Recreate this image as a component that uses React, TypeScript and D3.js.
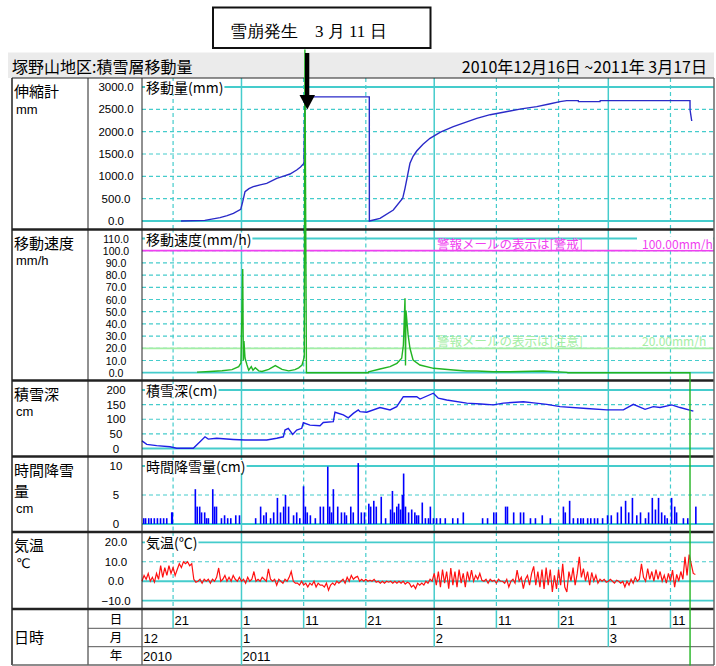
import React, { useRef, useEffect } from 'react';
import * as d3 from 'd3';

// time axis: 2010-12-16 00:00 .. 2011-03-18 00:00, data times are days since the start
const START = '2010-12-16';
const END = '2011-03-18';

// 移動量 (mm)
const displacement = [
  [6.27, 0], [10.1, 15], [12.55, 75], [13.7, 120], [14.7, 172], [15.88, 261], [16.2, 433],
  [16.57, 657], [17.2, 725], [17.9, 769], [19.0, 810], [20.06, 843], [21.67, 955], [22.8, 1005],
  [23.8, 1052], [24.88, 1142], [25.5, 1210], [26.06, 1291],
  [26.2, 2780], [36.56, 2780], [36.57, 0], [38.28, 60], [40.42, 246], [41.93, 508], [42.3, 731],
  [42.7, 1010], [43.1, 1291], [43.6, 1450], [44.18, 1567], [45.2, 1720], [46.32, 1851],
  [48.0, 1990], [50.07, 2112], [53.84, 2299], [56.0, 2380], [59.19, 2463], [61.0, 2510],
  [63.49, 2560], [65.5, 2620], [67.23, 2672], [68.31, 2694], [70.17, 2694], [70.2, 2672],
  [73.67, 2672], [73.7, 2694], [88.14, 2694], [88.15, 2485], [88.42, 2239],
];

// 移動速度 (mm/h)
const speed = [
  [8.85, 0.5], [10.94, 1], [12.87, 1.6], [14.48, 2.5], [15.55, 5], [15.92, 8], [16.2, 85],
  [16.3, 10], [16.4, 26], [16.57, 12], [16.89, 6.3], [17.16, 2], [17.58, 5], [17.85, 2],
  [18.22, 4], [18.77, 1.5], [19.3, 1], [20.38, 2.7], [21.44, 5.8], [22.52, 2.7], [23.6, 1.5],
  [24.6, 2.5], [25.2, 4], [25.74, 6.3], [26.1, 13], [26.2, 265], [26.45, 0], [36.4, 0],
  [36.45, 0.8], [38.28, 3], [39.9, 5], [41.0, 7.7], [41.77, 11.8], [42.04, 22.7], [42.3, 61],
  [42.38, 6], [42.46, 51], [42.8, 31], [43.1, 20], [43.6, 10.4], [44.7, 6.3], [46.9, 3.6],
  [50.07, 2.2], [52.2, 1.4], [53.8, 1.4], [56.5, 0.8], [59.2, 0.8], [64.5, 1.4], [68.3, 0.3],
  [68.5, 0], [88.14, 0], [88.15, -240],
];

// 警報メール thresholds
const alerts = [
  { value: 100, text: '警報メールの表示は[警戒]', valueText: '100.00mm/h', color: '#f040f0' },
  { value: 20, text: '警報メールの表示は[注意]', valueText: '20.00mm/h', color: '#a4eea4' },
];

// 積雪深 (cm)
const snowDepth = [
  [0, 26], [0.76, 14], [2.36, 10], [4.5, 6], [5.58, 1], [8.25, 1], [9.33, 23], [10.13, 40],
  [10.66, 32], [12.0, 35], [14.7, 31], [16.57, 29], [20.06, 29], [21.67, 35], [22.73, 40],
  [23.0, 63], [23.53, 69], [24.24, 48], [24.88, 63], [25.69, 69], [25.95, 88], [27.02, 80],
  [28.63, 78], [29.16, 89], [30.77, 92], [31.04, 124], [32.38, 115], [33.18, 105], [33.99, 120],
  [34.79, 132], [35.07, 126], [36.14, 124], [38.28, 140], [39.89, 132], [40.97, 143],
  [42.03, 177], [44.19, 177], [44.72, 169], [46.86, 189], [47.66, 172], [49.01, 166],
  [52.23, 155], [54.5, 152], [56.51, 149], [58.12, 155], [61.33, 160], [63.0, 156], [65.1, 151],
  [67.24, 143], [71.53, 137], [74.75, 132], [77.42, 132], [79.03, 151], [80.91, 134],
  [82.24, 143], [83.32, 140], [85.2, 149], [86.54, 140], [88.68, 128],
];

// 時間降雪量 (cm)
const snowfall = [
  [0.2, 1], [0.5, 1], [1.0, 1], [1.4, 1], [1.9, 1], [2.4, 1], [2.9, 1], [3.4, 1], [3.9, 1],
  [4.7, 2], [4.8, 2], [8.5, 6], [8.8, 3], [9.2, 3], [9.5, 2], [10.0, 2], [10.3, 1], [10.6, 1],
  [11.3, 6], [11.6, 3], [11.9, 3], [12.7, 1], [13.2, 1.5], [13.7, 1], [14.2, 1], [15.0, 1.5],
  [15.6, 1.5], [18.2, 1], [19.0, 3], [19.5, 1.5], [19.9, 2], [20.6, 1], [21.1, 2], [21.7, 4.5],
  [22.2, 2], [22.7, 3], [23.0, 5], [23.5, 3], [24.3, 1.5], [24.8, 2], [25.3, 1], [25.9, 6.5],
  [26.2, 3], [26.5, 2], [27.0, 1.5], [27.8, 1], [28.6, 3], [29.1, 3], [29.8, 9.9], [30.1, 3],
  [30.4, 2], [30.7, 6], [31.4, 3], [32.0, 2], [32.5, 2], [32.8, 1.5], [33.5, 3], [33.9, 2],
  [34.7, 10.5], [35.2, 2], [35.7, 2], [36.4, 3.5], [36.7, 3], [37.2, 4], [37.6, 3], [38.4, 4.7],
  [39.1, 1], [39.9, 2.5], [40.2, 5.7], [40.5, 2], [40.9, 3], [41.2, 3.5], [41.5, 2.5], [41.8, 5],
  [42.0, 8.7], [42.3, 3], [42.8, 2], [43.3, 2.5], [43.8, 2], [44.1, 1.5], [44.4, 1.5], [45.0, 3.7],
  [45.5, 1], [46.0, 1], [46.3, 3], [46.8, 1], [47.3, 1], [47.9, 1], [48.7, 1], [49.9, 1],
  [50.7, 1], [51.6, 2], [54.7, 1], [55.5, 1], [56.5, 2], [56.9, 2], [58.4, 3], [58.7, 3],
  [59.7, 2], [60.8, 2], [61.3, 2], [62.4, 1], [63.2, 1], [64.3, 1.5], [65.6, 1], [67.7, 3],
  [68.0, 2], [68.7, 4], [69.3, 1], [70.0, 1], [70.5, 1], [70.9, 1], [71.6, 1], [72.1, 1],
  [72.7, 1], [73.2, 1], [74.0, 1], [74.8, 1.5], [75.4, 1.5], [76.4, 2], [77.0, 3], [77.7, 4],
  [78.2, 2], [78.8, 4.5], [79.5, 1.5], [80.1, 2], [80.9, 1], [81.4, 2], [82.0, 4.5], [82.5, 2.5],
  [83.0, 4.5], [83.5, 2], [84.0, 1.5], [84.4, 1], [85.1, 4.5], [85.6, 3], [85.9, 2], [87.0, 1],
  [87.7, 1], [89.0, 3],
];

// 気温 (℃), one reading every 8 hours from the start
const tempStepDays = 1 / 3;
const temperature = [
  0, 3, 1, 4, 0, 2, -0.5, 4, 1, 8, 2, 7, 3, 8, 4, 7, 3, 6, 9, 7, 10, 9, 10, 8,
  9, 1, -0.5, 0, 1, -1, 1, 0, 1, -1, 1, 0, 2, 6.8, 0, 1, 3, 0, 2, 0, 3, 1, 0, 2,
  0, 1, -1, 2, 0, 1, 5, 0, 1, 0, 2, 1, 0, 6.3, 1, 0, 1, -2, 1, 0, -1, 1, 0, 2,
  5, 0, -1, -1, -2, 0, -2, -1, -3, -1, -2, 0, -3, -1, -2, -2, -3, -1, -4.6, -2, -1, -2, 0, -1,
  0, 1, -1, 2, 0, 3, 1, 2, 2.5, 0, 1, 0, 1, 0, 0.5, 0, 1, -0.5, 0, -1, 0, -1, 0, -0.5,
  0, -1, 0, -1, 0, -1, 0, -1.5, -0.5, -1, -3, -2, -3.8, -1, -2, -1, -2, 0, -1, 1, 0,
  4, -2, 5, -3, 6, -1, 5, -3.8, 6.8, -2, 5, -3, 6, -1, 4, -3, 5, 0, 5.7, 0, 3, 1, 4, 0.5,
  0, 1, -1, 1, 0, 0.5, -1, 1, 0, 0, -1, 1, -3, 0, 1, -1, 5.7, 0, 2, -3.8, 1, 3, -2, 4,
  7.6, -2, 5, -3, 6, -4, 7, -2, 6, -5.5, 3, -4, 6, -2, 8.9, -3, -5.5, 5, 0, 7, -2, 4, 12.6, 2,
  6.5, 0, 5, -2, 4.5, 0, 3, -1, 1, 0, 1, -0.5, 0, 1, 0, -1, 0.5, 0, -1, 0, -3, 0, -2, 1,
  -1, 2, 0, 1, 8.9, 2, 0, 6.5, 1, 5, 0, 6, 1, 5, 0, 3, -1, 4, 0, 5.7, -3, 3.5, 0, 5,
  1, 12.6, 3, 13.7, 8.9, 4, 3.5,
];

const dispTicks = [0, 500, 1000, 1500, 2000, 2500, 3000];
const speedTicks = [0, 10, 20, 30, 40, 50, 60, 70, 80, 90, 100, 110];
const depthTicks = [0, 50, 100, 150, 200];
const snowfallTicks = [0, 5, 10];
const tempTicks = [-10, 0, 10, 20];

const dayTicks = ['2010-12-21', '2011-01-01', '2011-01-11', '2011-01-21', '2011-02-01',
  '2011-02-11', '2011-02-21', '2011-03-01', '2011-03-11'];
const monthLabels = [['2010-12-16', '12'], ['2011-01-01', '1'], ['2011-02-01', '2'], ['2011-03-01', '3']];
const yearLabels = [['2010-12-16', '2010'], ['2011-01-01', '2011']];

export default function App() {
  const svgRef = useRef(null);

  useEffect(() => {
    const svg = d3.select(svgRef.current);
    svg.selectAll('*').remove();

    const jp = "'Noto Sans CJK JP', sans-serif";
    const num = "'Liberation Sans', Arial, sans-serif";
    const cyan = '#45cccc';
    const L = 12, C1 = 88, C2 = 142, R = 714;

    const parse = d3.timeParse('%Y-%m-%d');
    const t0 = parse(START);
    const at = (day) => new Date(t0.getTime() + day * 864e5);
    const x = d3.scaleTime().domain([t0, parse(END)]).range([C2, R]);

    //header
    svg.append('rect').attr('x', 8).attr('y', 52.5).attr('width', R - 8).attr('height', 25.5).attr('fill', '#ebebeb');
    svg.append('text').attr('x', 12).attr('y', 73).style('font-family', jp).style('font-size', '16px')
      .text('塚野山地区:積雪層移動量');
    svg.append('text').attr('x', 707).attr('y', 73).attr('text-anchor', 'end').style('font-family', jp)
      .style('font-size', '16px').text('2010年12月16日 ~2011年 3月17日');

    const panels = [
      { label: ['伸縮計', 'mm'], title: '移動量(mm)', top: 78, bottom: 229.5, domain: [0, 3000], range: [221, 87], ticks: dispTicks, fmt: '.1f' },
      { label: ['移動速度', 'mm/h'], title: '移動速度(mm/h)', top: 229.5, bottom: 380.5, domain: [0, 110], range: [372.7, 238.5], ticks: speedTicks, fmt: '.1f' },
      { label: ['積雪深', 'cm'], title: '積雪深(cm)', top: 380.5, bottom: 456.5, domain: [0, 200], range: [448.5, 390], ticks: depthTicks, fmt: 'd' },
      { label: ['時間降雪', '量', 'cm'], title: '時間降雪量(cm)', top: 456.5, bottom: 532, domain: [0, 10], range: [524, 466], ticks: snowfallTicks, fmt: 'd' },
      { label: ['気温', '℃'], title: '気温(℃)', top: 532, bottom: 609, domain: [-10, 20], range: [600.7, 542.3], ticks: tempTicks, fmt: '.1f' },
    ];
    const ys = panels.map((p) => d3.scaleLinear().domain(p.domain).range(p.range));

    const dayDates = dayTicks.map(parse);
    const isMonthStart = (d) => d.getDate() === 1;

    panels.forEach((p, i) => {
      const y = ys[i];
      const g = svg.append('g');
      // vertical grid
      dayDates.forEach((d) => {
        g.append('line').attr('x1', x(d)).attr('x2', x(d)).attr('y1', p.top).attr('y2', p.bottom)
          .attr('stroke', cyan).attr('stroke-width', isMonthStart(d) ? 1.5 : 1.2)
          .attr('stroke-dasharray', isMonthStart(d) ? null : '4,3');
      });
      // horizontal grid
      const tickSize = p.ticks.length > 8 ? 10.5 : 11.5;
      p.ticks.forEach((v) => {
        const solid = v === p.domain[0] || v === p.domain[1] || v === 0;
        g.append('line').attr('x1', C2).attr('x2', R).attr('y1', y(v)).attr('y2', y(v))
          .attr('stroke', cyan).attr('stroke-width', solid ? 1.8 : 1.2)
          .attr('stroke-dasharray', solid ? null : '4,3');
        g.append('text').attr('x', 116).attr('y', y(v) + 4).attr('text-anchor', 'middle')
          .style('font-family', num).style('font-size', tickSize + 'px').text(d3.format(p.fmt)(v));
      });
      // left label lines
      let yy = p.top + 19;
      p.label.forEach((s, k) => {
        const latin = /^[a-z/℃]+$/.test(s);
        if (k > 0) yy += latin ? 16.5 : 21;
        g.append('text').attr('x', latin ? 16 : 14).attr('y', yy)
          .style('font-family', s === '℃' ? "'DejaVu Sans', sans-serif" : latin ? num : jp)
          .style('font-size', latin ? '13px' : '15px').text(s);
      });
      // title with white box
      const ty = y(p.domain[1]);
      const title = g.append('text').attr('x', 146).attr('y', ty + 6).style('font-family', jp)
        .style('font-size', '14px').text(p.title);
      const w = title.node().getComputedTextLength();
      g.insert('rect', () => title.node()).attr('x', 145).attr('y', ty - 6).attr('width', w + 2).attr('height', 13)
        .attr('fill', 'white');
    });

    // alert lines in the speed panel
    alerts.forEach((a) => {
      const yy = ys[1](a.value);
      svg.append('line').attr('x1', C2).attr('x2', R).attr('y1', yy).attr('y2', yy)
        .attr('stroke', a.color).attr('stroke-width', 1.8);
      svg.append('text').attr('x', 437).attr('y', yy - 2).attr('fill', a.color).style('font-family', jp)
        .style('font-size', '12.5px').text(a.text);
      const vt = svg.append('text').attr('x', 642).attr('y', yy - 2).attr('fill', a.color)
        .style('font-family', jp).style('font-size', '12px').text(a.valueText);
      if (a.value === 100) {
        svg.insert('rect', () => vt.node()).attr('x', 637).attr('y', yy - 14).attr('width', 76).attr('height', 13)
          .attr('fill', 'white');
      }
    });

    // 移動量
    svg.append('path').datum(displacement)
      .attr('d', d3.line().x((d) => x(at(d[0]))).y((d) => ys[0](d[1])))
      .attr('fill', 'none').attr('stroke', '#2a2ac8').attr('stroke-width', 1.4);

    // 積雪深
    svg.append('path').datum(snowDepth)
      .attr('d', d3.line().x((d) => x(at(d[0]))).y((d) => ys[2](d[1])))
      .attr('fill', 'none').attr('stroke', '#1f1fe6').attr('stroke-width', 1.4);

    // 時間降雪量
    svg.append('g').selectAll('rect').data(snowfall).join('rect')
      .attr('x', (d) => x(at(d[0])) - 0.3).attr('width', 1.6)
      .attr('y', (d) => ys[3](d[1])).attr('height', (d) => ys[3](0) - ys[3](d[1]))
      .attr('fill', '#0000ff');

    // 気温
    svg.append('path').datum(temperature)
      .attr('d', d3.line().x((d, i) => x(at(i * tempStepDays))).y((d) => ys[4](d)))
      .attr('fill', 'none').attr('stroke', '#ff1010').attr('stroke-width', 1.2);

    // frame
    const frame = svg.append('g').attr('stroke', '#222');
    frame.append('line').attr('x1', L).attr('x2', R).attr('y1', 78).attr('y2', 78).attr('stroke-width', 1);
    [229.5, 380.5, 456.5, 532, 609].forEach((yy) => {
      frame.append('line').attr('x1', L).attr('x2', R).attr('y1', yy).attr('y2', yy).attr('stroke-width', 2.5);
    });
    [L, C1, C2].forEach((xx) => {
      frame.append('line').attr('x1', xx).attr('x2', xx).attr('y1', 78).attr('y2', 665).attr('stroke-width', xx === L ? 1.5 : 1);
    });
    frame.append('line').attr('x1', R).attr('x2', R).attr('y1', 78).attr('y2', 665).attr('stroke', '#666').attr('stroke-width', 1.5);
    frame.append('line').attr('x1', L).attr('x2', R).attr('y1', 665).attr('y2', 665).attr('stroke', '#666').attr('stroke-width', 1.5);

    // date rows
    const rows = [609, 628.3, 646.7, 665];
    [628.3, 646.7].forEach((yy) => {
      svg.append('line').attr('x1', C1).attr('x2', R).attr('y1', yy).attr('y2', yy).attr('stroke', '#555');
    });
    dayDates.forEach((d) => {
      const isYear = d.getMonth() === 0 && d.getDate() === 1;
      const bottom = isYear ? rows[3] : isMonthStart(d) ? rows[2] : rows[1];
      svg.append('line').attr('x1', x(d)).attr('x2', x(d)).attr('y1', rows[0] + 1).attr('y2', bottom)
        .attr('stroke', cyan).attr('stroke-width', 1.5);
      svg.append('text').attr('x', x(d) + 1.5).attr('y', 624.5).style('font-family', num)
        .style('font-size', '13px').text(d3.timeFormat('%-d')(d));
    });
    monthLabels.forEach(([d, s]) => {
      svg.append('text').attr('x', x(parse(d)) + 1.5).attr('y', 643).style('font-family', num)
        .style('font-size', '13px').text(s);
    });
    yearLabels.forEach(([d, s]) => {
      svg.append('text').attr('x', x(parse(d)) + 1).attr('y', 661).style('font-family', num)
        .style('font-size', '13px').text(s);
    });
    ['日', '月', '年'].forEach((s, k) => {
      svg.append('text').attr('x', 116).attr('y', 623.5 + k * 18.3).attr('text-anchor', 'middle')
        .style('font-family', jp).style('font-size', '12.5px').text(s);
    });
    svg.append('text').attr('x', 14).attr('y', 643).style('font-family', jp).style('font-size', '15px').text('日時');

    // 移動速度 (drawn last, it runs past its panel)
    svg.append('path').datum(speed)
      .attr('d', d3.line().x((d) => x(at(d[0]))).y((d) => ys[1](d[1])))
      .attr('fill', 'none').attr('stroke', '#22b422').attr('stroke-width', 1.4);

    // callout
    svg.append('rect').attr('x', 213).attr('y', 7.5).attr('width', 217.5).attr('height', 40.5)
      .attr('fill', 'white').attr('stroke', '#111').attr('stroke-width', 2);
    svg.append('text').attr('x', 230).attr('y', 36.5).style('font-family', "serif").style('font-size', '17px')
      .text('雪崩発生　3 月 11 日');
    svg.append('rect').attr('x', 305).attr('y', 53).attr('width', 4.3).attr('height', 43).attr('fill', 'black');
    svg.append('path').attr('d', 'M299.5,95 L315,95 L307.3,109.5 Z').attr('fill', 'black');
  }, []);

  return (
    <svg ref={svgRef} width={716} height={666}
      style={{ position: 'absolute', left: 0, top: 0, background: 'white' }}></svg>
  );
}
